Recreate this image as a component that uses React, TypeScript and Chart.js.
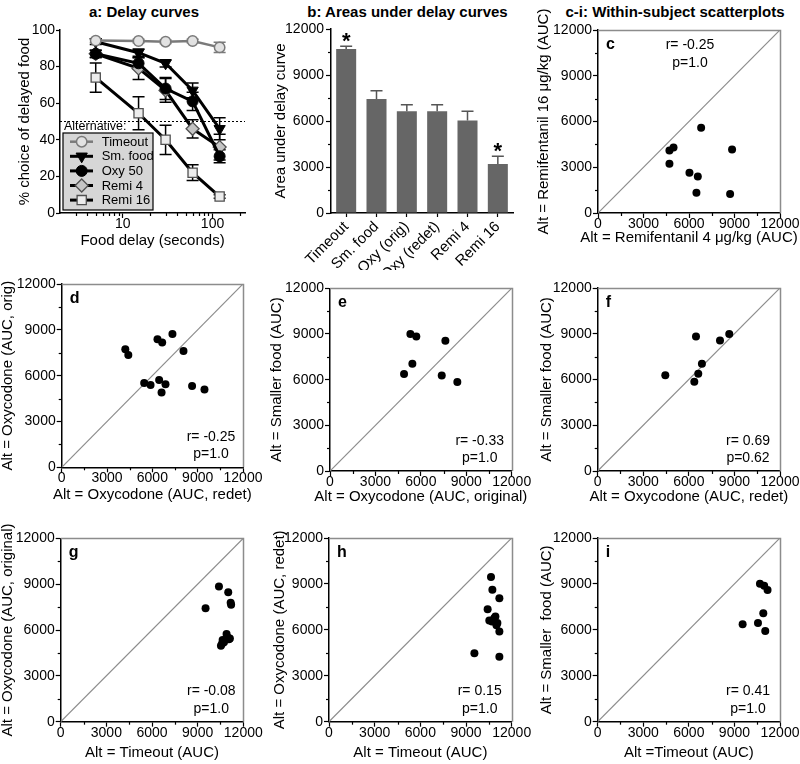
import React, { useEffect, useRef } from "react";
import { Chart, registerables } from "chart.js";

Chart.register(...registerables);

const FONT = "'Liberation Sans', Arial, Helvetica, sans-serif";

/* ---------------- Panel a: delay curves ---------------- */
const delaySec = [5, 15, 30, 60, 120];
const timeoutPct = [94.2, 94.0, 93.6, 94.0, 90.5];
const timeoutSem = [1.0, 1.0, 1.0, 1.0, 2.8];
const smFoodPct = [93.6, 87.6, 81.8, 67.0, 46.0];
const smFoodSem = [1.5, 2.0, 2.0, 4.0, 6.0];
const oxy50Pct = [87.0, 81.8, 68.0, 61.0, 31.0];
const oxy50Sem = [2.0, 3.0, 6.0, 5.0, 3.5];
const remi4Pct = [87.0, 79.0, 67.0, 46.0, 36.0];
const remi4Sem = [2.0, 6.0, 6.5, 5.0, 7.0];
const remi16Pct = [74.0, 54.5, 40.0, 22.0, 9.0];
const remi16Sem = [8.0, 9.0, 8.0, 4.3, 1.0];
const seriesNames = ["Timeout", "Sm. food", "Oxy 50", "Remi 4", "Remi 16"];
const delayRange = [2, 230];
const delayTicks = [10, 100];
const delayMinorTicks = [3, 4, 5, 6, 7, 8, 9, 20, 30, 40, 50, 60, 70, 80, 90, 200];
const pctRange = [0, 100];
const pctTicks = [0, 20, 40, 60, 80, 100];
const indifferencePct = 50;

/* ---------------- Panel b: areas under curves ---------------- */
const aucLabels = ["Timeout", "Sm. food", "Oxy (orig)", "Oxy (redet)", "Remi 4", "Remi 16"];
const aucMeans = [10700, 7430, 6630, 6630, 6040, 3200];
const aucSem = [170, 540, 435, 435, 590, 500];
const aucStars = ["*", "", "", "", "", "*"];
const aucRange = [0, 12000];
const aucTicks = [0, 3000, 6000, 9000, 12000];
const aucMinorTicks = [1500, 4500, 7500, 10500];

/* ---------------- Panels c-i: within-subject scatter ---------------- */
const cRemi4 = [4710, 4980, 4710, 6800, 6030, 6580, 6490, 8840, 8710];
const cRemi16 = [4100, 4300, 3230, 5590, 2640, 2400, 1330, 4170, 1240];

const dOxyRedet = [4210, 4410, 6340, 6650, 7330, 8060, 5460, 5880, 6450, 6870, 6610, 8630, 9450];
const dOxyOrig = [7730, 7360, 8380, 8170, 8730, 7620, 5520, 5390, 5720, 5440, 4890, 5330, 5090];

const eOxyOrig = [5310, 5700, 7620, 5440, 4890, 7380, 8410];
const eSmFood = [9000, 8830, 8560, 7050, 6370, 6280, 5850];

const fOxyRedet = [6470, 8050, 8660, 6860, 6620, 6360, 4450];
const fSmFood = [8820, 8560, 8980, 7030, 6370, 5850, 6280];

const gTimeout = [9520, 10400, 11010, 11170, 11200, 10900, 11120, 10640, 10730, 10530, 10950, 10600, 11050];
const gOxyOrig = [7420, 8840, 8470, 7790, 7650, 5740, 5450, 5350, 5200, 4970, 5550, 5100, 5400];

const hTimeout = [10640, 10730, 11190, 10420, 10530, 10930, 11060, 11190, 9550, 11190, 10850, 10700, 11000];
const hOxyRedet = [9450, 8620, 8070, 7350, 6610, 6870, 6440, 5890, 4470, 4250, 6750, 6550, 6300];

const iTimeout = [10680, 10960, 11180, 10900, 10550, 9540, 11030];
const iSmFood = [9010, 8880, 8600, 7090, 6440, 6370, 5930];

type ScatterSpec = {
  letter: string;
  xs: number[];
  ys: number[];
  xTitle: string;
  yTitle: string;
  r: string;
  p: string;
  statsTop: boolean;
};

const scatterSpecs: ScatterSpec[] = [
  { letter: "c", xs: cRemi4, ys: cRemi16, xTitle: "Alt = Remifentanil 4 \u03bcg/kg (AUC)", yTitle: "Alt = Remifentanil 16 \u03bcg/kg (AUC)", r: "r= -0.25", p: "p=1.0", statsTop: true },
  { letter: "d", xs: dOxyRedet, ys: dOxyOrig, xTitle: "Alt = Oxycodone (AUC, redet)", yTitle: "Alt = Oxycodone (AUC, orig)", r: "r= -0.25", p: "p=1.0", statsTop: false },
  { letter: "e", xs: eOxyOrig, ys: eSmFood, xTitle: "Alt = Oxycodone (AUC, original)", yTitle: "Alt = Smaller food (AUC)", r: "r= -0.33", p: "p=1.0", statsTop: false },
  { letter: "f", xs: fOxyRedet, ys: fSmFood, xTitle: "Alt = Oxycodone (AUC, redet)", yTitle: "Alt = Smaller food (AUC)", r: "r= 0.69", p: "p=0.62", statsTop: false },
  { letter: "g", xs: gTimeout, ys: gOxyOrig, xTitle: "Alt = Timeout (AUC)", yTitle: "Alt = Oxycodone (AUC, original)", r: "r= -0.08", p: "p=1.0", statsTop: false },
  { letter: "h", xs: hTimeout, ys: hOxyRedet, xTitle: "Alt = Timeout (AUC)", yTitle: "Alt = Oxycodone (AUC, redet)", r: "r= 0.15", p: "p=1.0", statsTop: false },
  { letter: "i", xs: iTimeout, ys: iSmFood, xTitle: "Alt =Timeout (AUC)", yTitle: "Alt = Smaller  food (AUC)", r: "r= 0.41", p: "p=1.0", statsTop: false },
];

/* ---------------- Layout (page pixel geometry) ---------------- */
type Area = { L: number; R: number; T: number; B: number };
type Frame = { cx: number; cy: number; cw: number; ch: number };
type PanelLayout = { col: number; area: Area; yTitleX: number; xTitleY: number };

const scatterLayouts: PanelLayout[] = [
  { col: 530, area: { L: 598, R: 780, T: 30, B: 213 }, yTitleX: 544, xTitleY: 237.5 },
  { col: 0, area: { L: 61.7, R: 243, T: 284, B: 467.3 }, yTitleX: 8.3, xTitleY: 495 },
  { col: 260, area: { L: 330, R: 511.7, T: 288.3, B: 471 }, yTitleX: 276.7, xTitleY: 497 },
  { col: 530, area: { L: 597.7, R: 780, T: 288, B: 471 }, yTitleX: 546.7, xTitleY: 497 },
  { col: 0, area: { L: 60.7, R: 243.3, T: 538.3, B: 721.7 }, yTitleX: 8.3, xTitleY: 753 },
  { col: 260, area: { L: 329, R: 511.7, T: 538, B: 721.7 }, yTitleX: 280, xTitleY: 753 },
  { col: 530, area: { L: 597.7, R: 780, T: 538, B: 721.7 }, yTitleX: 546.7, xTitleY: 753 },
];

const layoutA: PanelLayout = { col: 0, area: { L: 60, R: 245, T: 30, B: 213 }, yTitleX: 25, xTitleY: 241 };
const layoutB: PanelLayout = { col: 260, area: { L: 331, R: 513, T: 29, B: 213 }, yTitleX: 280.7, xTitleY: 0 };

function frameFor(l: PanelLayout, topGap: number, bottomAbs?: number): Frame {
  const cx = l.col;
  const cy = Math.max(0, Math.round(l.area.T - topGap));
  const cw = Math.round(l.area.R + 24 - cx);
  const bottom = bottomAbs !== undefined ? bottomAbs : l.xTitleY + 12;
  const ch = Math.round(bottom - cy);
  return { cx, cy, cw, ch };
}

/* ---------------- Plugins ---------------- */
function axisTitlesPlugin(frame: Frame, l: PanelLayout, xTitle: string | null, yTitle: string | null, size = 15) {
  return {
    id: "axisTitles",
    afterDraw(chart: any) {
      const { ctx, chartArea: ca } = chart;
      ctx.save();
      ctx.fillStyle = "#000";
      ctx.font = `${size}px ${FONT}`;
      ctx.textAlign = "center";
      ctx.textBaseline = "middle";
      if (xTitle) ctx.fillText(xTitle, (ca.left + ca.right) / 2, l.xTitleY - frame.cy);
      if (yTitle) {
        ctx.translate(l.yTitleX - frame.cx, (ca.top + ca.bottom) / 2);
        ctx.rotate(-Math.PI / 2);
        ctx.fillText(yTitle, 0, 0);
      }
      ctx.restore();
    },
  };
}

function minorTicksPlugin(axes: { id: string; values: number[]; len: number }[]) {
  return {
    id: "minorTicks",
    afterDraw(chart: any) {
      const ctx = chart.ctx;
      ctx.save();
      ctx.strokeStyle = "#000";
      ctx.lineWidth = 1.2;
      for (const a of axes) {
        const s = chart.scales[a.id];
        for (const v of a.values) {
          const p = Math.round(s.getPixelForValue(v)) + 0.5;
          ctx.beginPath();
          if (s.isHorizontal()) {
            ctx.moveTo(p, s.top);
            ctx.lineTo(p, s.top + a.len);
          } else {
            ctx.moveTo(s.right, p);
            ctx.lineTo(s.right - a.len, p);
          }
          ctx.stroke();
        }
      }
      ctx.restore();
    },
  };
}

function errorBarsPlugin(sems: number[][], colors: string[], cap: number, width: number, upperOnly: boolean, above: boolean) {
  const draw = (chart: any) => {
    const ctx = chart.ctx;
    const ys = chart.scales.y;
    ctx.save();
    ctx.lineWidth = width;
    sems.forEach((sem, di) => {
      const meta = chart.getDatasetMeta(di);
      const raw = chart.data.datasets[di].data;
      meta.data.forEach((el: any, i: number) => {
        const v = typeof raw[i] === "number" ? raw[i] : raw[i].y;
        const x = el.x;
        const yHi = ys.getPixelForValue(v + sem[i]);
        const yLo = ys.getPixelForValue(upperOnly ? v : v - sem[i]);
        ctx.strokeStyle = colors[di];
        ctx.beginPath();
        ctx.moveTo(x, yLo);
        ctx.lineTo(x, yHi);
        ctx.moveTo(x - cap, yHi);
        ctx.lineTo(x + cap, yHi);
        if (!upperOnly) {
          ctx.moveTo(x - cap, yLo);
          ctx.lineTo(x + cap, yLo);
        }
        ctx.stroke();
      });
    });
    ctx.restore();
  };
  return above ? { id: "errorBars", afterDatasetsDraw: draw } : { id: "errorBars", beforeDatasetsDraw: draw };
}

function drawMarker(ctx: CanvasRenderingContext2D, style: string, rot: number, x: number, y: number, r: number, fill: string, stroke: string, lw: number) {
  ctx.beginPath();
  if (style === "circle") {
    ctx.arc(x, y, r, 0, Math.PI * 2);
  } else if (style === "triangle") {
    const s = rot === 180 ? -1 : 1;
    ctx.moveTo(x, y - s * r);
    ctx.lineTo(x + 0.866 * r, y + s * 0.5 * r);
    ctx.lineTo(x - 0.866 * r, y + s * 0.5 * r);
    ctx.closePath();
  } else if (style === "rectRot") {
    ctx.moveTo(x, y - r);
    ctx.lineTo(x + r, y);
    ctx.lineTo(x, y + r);
    ctx.lineTo(x - r, y);
    ctx.closePath();
  } else {
    const h = r * Math.SQRT1_2;
    ctx.rect(x - h, y - h, 2 * h, 2 * h);
  }
  ctx.fillStyle = fill;
  ctx.fill();
  if (lw > 0) {
    ctx.lineWidth = lw;
    ctx.strokeStyle = stroke;
    ctx.stroke();
  }
}

const delayLegendPlugin = {
  id: "delayLegend",
  afterDatasetsDraw(chart: any) {
    const { ctx, chartArea: ca } = chart;
    ctx.save();
    const bx = ca.left + 3;
    const by = ca.top + 103;
    const bw = 90;
    const bh = 77;
    ctx.fillStyle = "#d6d6d6";
    ctx.fillRect(bx, by, bw, bh);
    ctx.strokeStyle = "#000";
    ctx.lineWidth = 1.2;
    ctx.strokeRect(bx, by, bw, bh);
    ctx.fillStyle = "#000";
    ctx.font = `12.5px ${FONT}`;
    ctx.textAlign = "left";
    ctx.textBaseline = "middle";
    ctx.fillText("Alternative:", ca.left + 4, ca.top + 97);
    ctx.font = `13px ${FONT}`;
    seriesNames.forEach((name, k) => {
      const ds = chart.data.datasets[k];
      const y = ca.top + 111.7 + 14.6 * k;
      ctx.strokeStyle = ds.borderColor;
      ctx.lineWidth = ds.borderWidth;
      ctx.beginPath();
      ctx.moveTo(ca.left + 10, y);
      ctx.lineTo(ca.left + 33, y);
      ctx.stroke();
      drawMarker(ctx, ds.pointStyle, ds.pointRotation || 0, ca.left + 21.7, y, ds.pointRadius, ds.pointBackgroundColor, ds.pointBorderColor, ds.pointBorderWidth);
      ctx.fillStyle = "#000";
      ctx.fillText(name, ca.left + 41.7, y + 0.5);
    });
    ctx.restore();
  },
};

function starsPlugin() {
  return {
    id: "stars",
    afterDatasetsDraw(chart: any) {
      const { ctx } = chart;
      const ys = chart.scales.y;
      const meta = chart.getDatasetMeta(0);
      ctx.save();
      ctx.fillStyle = "#000";
      ctx.font = `bold 22px ${FONT}`;
      ctx.textAlign = "center";
      ctx.textBaseline = "middle";
      meta.data.forEach((el: any, i: number) => {
        if (!aucStars[i]) return;
        const y = ys.getPixelForValue(aucMeans[i] + aucSem[i]) - 4.6;
        ctx.fillText(aucStars[i], el.x, y);
      });
      ctx.restore();
    },
  };
}

function scatterDecorPlugin(spec: ScatterSpec) {
  return {
    id: "scatterDecor",
    beforeDatasetsDraw(chart: any) {
      const { ctx, chartArea: ca } = chart;
      ctx.save();
      ctx.strokeStyle = "#8c8c8c";
      ctx.lineWidth = 1.5;
      ctx.beginPath();
      ctx.moveTo(ca.left, Math.round(ca.top) + 0.5);
      ctx.lineTo(Math.round(ca.right) + 0.5, Math.round(ca.top) + 0.5);
      ctx.lineTo(Math.round(ca.right) + 0.5, ca.bottom);
      ctx.stroke();
      ctx.restore();
    },
    afterDatasetsDraw(chart: any) {
      const { ctx, chartArea: ca } = chart;
      ctx.save();
      ctx.fillStyle = "#000";
      ctx.textBaseline = "alphabetic";
      ctx.textAlign = "left";
      ctx.font = `bold 16px ${FONT}`;
      ctx.fillText(spec.letter, ca.left + 8, ca.top + 18.5);
      ctx.font = `14px ${FONT}`;
      ctx.textAlign = "center";
      if (spec.statsTop) {
        const cx = (ca.left + ca.right) / 2 + 1;
        ctx.fillText(spec.r, cx, ca.top + 19);
        ctx.fillText(spec.p, cx, ca.top + 36.7);
      } else {
        const cx = ca.right - 32;
        ctx.fillText(spec.r, cx, ca.bottom - 26.5);
        ctx.fillText(spec.p, cx, ca.bottom - 9);
      }
      ctx.restore();
    },
  };
}

/* ---------------- Axis helpers ---------------- */
function linearAxis(kind: "x" | "y", range: number[], ticks: number[], size: number, tickLen: number, pad: number) {
  return {
    type: "linear",
    position: kind === "x" ? "bottom" : "left",
    min: range[0],
    max: range[1],
    afterBuildTicks: (s: any) => {
      s.ticks = ticks.map((v) => ({ value: v }));
    },
    afterFit: (s: any) => {
      if (kind === "x") s.height = size;
      else s.width = size;
    },
    ticks: {
      autoSkip: false,
      maxRotation: 0,
      minRotation: 0,
      padding: pad,
      color: "#000",
      font: { family: FONT, size: 14 },
      callback: (v: any) => String(v),
    },
    grid: { display: true, drawOnChartArea: false, tickLength: tickLen, tickColor: "#000", tickWidth: 1.2 },
    border: { display: true, color: "#000", width: 1.5 },
  };
}

/* ---------------- Chart configs ---------------- */
const frameA = frameFor(layoutA, 14);
const frameB = frameFor(layoutB, 14, 270);

function delayConfig() {
  const l = layoutA;
  const f = frameA;
  const pts = (vals: number[]) => delaySec.map((d, i) => ({ x: d, y: vals[i] }));
  return {
    type: "line",
    data: {
      datasets: [
        { label: seriesNames[0], data: pts(timeoutPct), tension: 0, borderColor: "#7a7a7a", borderWidth: 2.5, pointStyle: "circle", pointRadius: 5.2, pointBackgroundColor: "#e2e2e2", pointBorderColor: "#7a7a7a", pointBorderWidth: 1.5 },
        { label: seriesNames[1], data: pts(smFoodPct), tension: 0, borderColor: "#000", borderWidth: 3, pointStyle: "triangle", pointRotation: 180, pointRadius: 6.5, pointBackgroundColor: "#000", pointBorderColor: "#000", pointBorderWidth: 1 },
        { label: seriesNames[2], data: pts(oxy50Pct), tension: 0, borderColor: "#000", borderWidth: 3, pointStyle: "circle", pointRadius: 5.5, pointBackgroundColor: "#000", pointBorderColor: "#000", pointBorderWidth: 1 },
        { label: seriesNames[3], data: pts(remi4Pct), tension: 0, borderColor: "#000", borderWidth: 3, pointStyle: "rectRot", pointRadius: 6.5, pointBackgroundColor: "#c4c4c4", pointBorderColor: "#505050", pointBorderWidth: 1.3 },
        { label: seriesNames[4], data: pts(remi16Pct), tension: 0, borderColor: "#000", borderWidth: 3, pointStyle: "rect", pointRadius: 6.5, pointBackgroundColor: "#ececec", pointBorderColor: "#505050", pointBorderWidth: 1.3 },
        { label: "indifference", data: [{ x: delayRange[0], y: indifferencePct }, { x: delayRange[1], y: indifferencePct }], borderColor: "#000", borderWidth: 1, borderDash: [2, 2], pointRadius: 0, tension: 0 },
      ],
    },
    options: {
      responsive: false,
      animation: false,
      devicePixelRatio: 1,
      events: [],
      layout: { padding: { left: 0, top: l.area.T - f.cy, right: f.cx + f.cw - l.area.R, bottom: 0 } },
      plugins: { legend: { display: false }, tooltip: { enabled: false } },
      scales: {
        x: {
          type: "logarithmic",
          position: "bottom",
          min: delayRange[0],
          max: delayRange[1],
          bounds: "data",
          afterBuildTicks: (s: any) => {
            s.ticks = delayTicks.map((v) => ({ value: v }));
          },
          afterFit: (s: any) => {
            s.height = f.cy + f.ch - l.area.B;
          },
          ticks: { autoSkip: false, maxRotation: 0, padding: -2.4, color: "#000", font: { family: FONT, size: 14 }, callback: (v: any) => String(v) },
          grid: { display: true, drawOnChartArea: false, tickLength: 5, tickColor: "#000", tickWidth: 1.2 },
          border: { display: true, color: "#000", width: 1.5 },
        },
        y: linearAxis("y", pctRange, pctTicks, l.area.L - f.cx, 4, 1),
      },
    },
    plugins: [
      errorBarsPlugin([timeoutSem, smFoodSem, oxy50Sem, remi4Sem, remi16Sem], ["#7a7a7a", "#000", "#000", "#000", "#000"], 6, 1.5, false, false),
      minorTicksPlugin([{ id: "x", values: delayMinorTicks, len: 3 }]),
      delayLegendPlugin,
      axisTitlesPlugin(f, l, "Food delay (seconds)", "% choice of delayed food"),
    ],
  };
}

function aucConfig() {
  const l = layoutB;
  const f = frameB;
  return {
    type: "bar",
    data: {
      labels: aucLabels,
      datasets: [{ data: aucMeans, backgroundColor: "#666666", borderWidth: 0, barPercentage: 0.66, categoryPercentage: 1.0 }],
    },
    options: {
      responsive: false,
      animation: false,
      devicePixelRatio: 1,
      events: [],
      layout: { padding: { left: 0, top: l.area.T - f.cy, right: f.cx + f.cw - l.area.R, bottom: 0 } },
      plugins: { legend: { display: false }, tooltip: { enabled: false } },
      scales: {
        x: {
          type: "category",
          position: "bottom",
          offset: true,
          afterFit: (s: any) => {
            s.height = f.cy + f.ch - l.area.B;
          },
          ticks: { autoSkip: false, minRotation: 45, maxRotation: 45, padding: 1, color: "#000", font: { family: FONT, size: 15 } },
          grid: { display: true, offset: false, drawOnChartArea: false, tickLength: 4, tickColor: "#000", tickWidth: 1.2 },
          border: { display: true, color: "#000", width: 1.5 },
        },
        y: linearAxis("y", aucRange, aucTicks, l.area.L - f.cx, 5, 2),
      },
    },
    plugins: [
      errorBarsPlugin([aucSem], ["#555555"], 6, 1.5, true, true),
      starsPlugin(),
      minorTicksPlugin([{ id: "y", values: aucMinorTicks, len: 3 }]),
      axisTitlesPlugin(f, l, null, "Area under delay curve"),
    ],
  };
}

function scatterConfig(spec: ScatterSpec, l: PanelLayout, f: Frame) {
  const a = l.area;
  return {
    type: "scatter",
    data: {
      datasets: [
        { data: spec.xs.map((x, i) => ({ x, y: spec.ys[i] })), pointRadius: 4, pointBackgroundColor: "#000", pointBorderColor: "#000", pointBorderWidth: 0 },
        { data: [{ x: aucRange[0], y: aucRange[0] }, { x: aucRange[1], y: aucRange[1] }], showLine: true, borderColor: "#8c8c8c", borderWidth: 1.2, pointRadius: 0 },
      ],
    },
    options: {
      responsive: false,
      animation: false,
      devicePixelRatio: 1,
      events: [],
      layout: { padding: { left: 0, top: a.T - f.cy, right: f.cx + f.cw - a.R, bottom: 0 } },
      plugins: { legend: { display: false }, tooltip: { enabled: false } },
      scales: {
        x: linearAxis("x", aucRange, aucTicks, f.cy + f.ch - a.B, 5, -2.4),
        y: linearAxis("y", aucRange, aucTicks, a.L - f.cx, 5, 1),
      },
    },
    plugins: [
      scatterDecorPlugin(spec),
      minorTicksPlugin([
        { id: "x", values: aucMinorTicks, len: 3 },
        { id: "y", values: aucMinorTicks, len: 3 },
      ]),
      axisTitlesPlugin(f, l, spec.xTitle, spec.yTitle),
    ],
  };
}

/* ---------------- Components ---------------- */
function ChartCanvas({ frame, make }: { frame: Frame; make: () => any }) {
  const ref = useRef<HTMLCanvasElement | null>(null);
  useEffect(() => {
    if (!ref.current) return;
    const chart = new Chart(ref.current, make());
    return () => chart.destroy();
  }, []);
  return (
    <canvas
      ref={ref}
      width={frame.cw}
      height={frame.ch}
      style={{ position: "absolute", left: frame.cx, top: frame.cy, width: frame.cw, height: frame.ch }}
    />
  );
}

function PanelTitle({ cx, text }: { cx: number; text: string }) {
  return (
    <div
      style={{
        position: "absolute",
        left: cx - 160,
        width: 320,
        top: 3,
        lineHeight: "18px",
        fontSize: 15,
        fontWeight: "bold",
        textAlign: "center",
        color: "#000",
        fontFamily: FONT,
        whiteSpace: "nowrap",
      }}
    >
      {text}
    </div>
  );
}

export default function App() {
  return (
    <div style={{ position: "absolute", left: 0, top: 0, width: 800, height: 764, overflow: "hidden", background: "#fff" }}>
      <PanelTitle cx={144} text="a: Delay curves" />
      <PanelTitle cx={407.5} text="b: Areas under delay curves" />
      <PanelTitle cx={675} text="c-i: Within-subject scatterplots" />
      <ChartCanvas frame={frameA} make={delayConfig} />
      <ChartCanvas frame={frameB} make={aucConfig} />
      {scatterSpecs.map((spec, k) => {
        const l = scatterLayouts[k];
        const f = frameFor(l, 30);
        return <ChartCanvas key={spec.letter} frame={f} make={() => scatterConfig(spec, l, f)} />;
      })}
    </div>
  );
}
